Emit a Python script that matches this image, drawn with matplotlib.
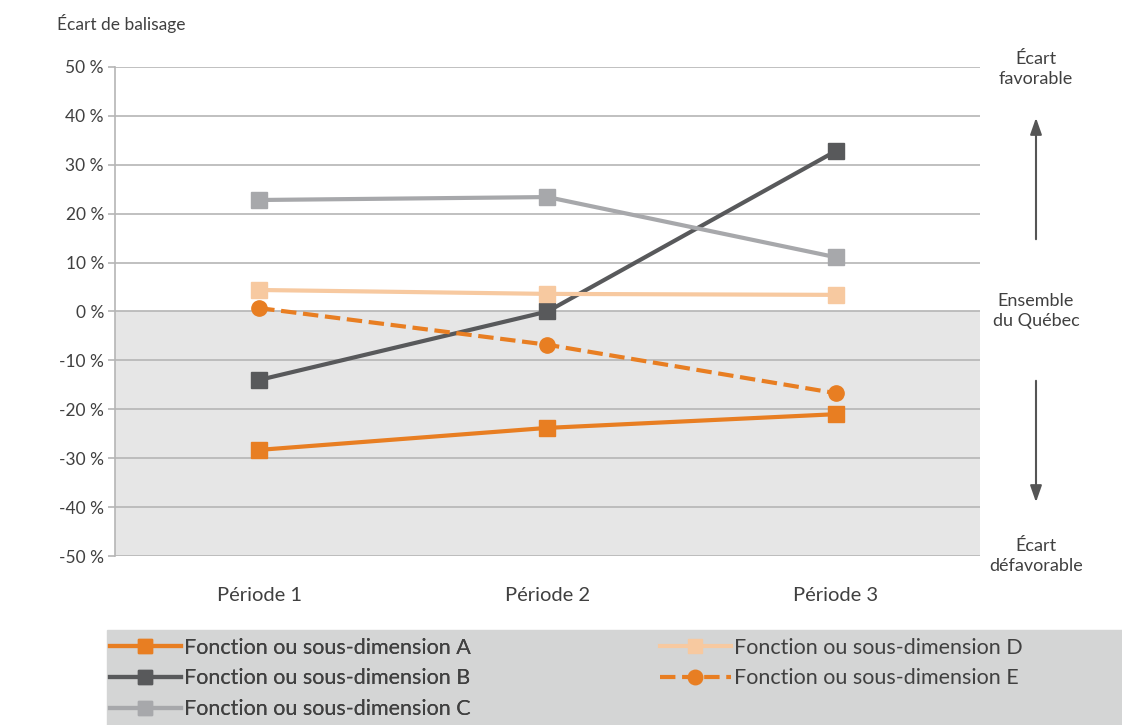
import matplotlib.pyplot as plt
from matplotlib.patches import Rectangle
from matplotlib.ticker import FuncFormatter

plt.rcParams['font.family'] = ['Lato', 'DejaVu Sans']

periods = ['Période 1', 'Période 2', 'Période 3']
serie_a = [-28.3, -23.8, -21.0]
serie_b = [-14.0, 0.0, 32.8]
serie_c = [22.8, 23.4, 11.1]
serie_d = [4.4, 3.6, 3.4]
serie_e = [0.7, -6.8, -16.7]
labels = ['Fonction ou sous-dimension A', 'Fonction ou sous-dimension B',
          'Fonction ou sous-dimension C', 'Fonction ou sous-dimension D',
          'Fonction ou sous-dimension E']

txt = '#404040'
fig = plt.figure(figsize=(11.22, 7.25), dpi=100)
ax = fig.add_axes([0.1025, 0.2331, 0.7709, 0.6745])

x = range(len(periods))
ax.axhspan(-50, 0, color='#e6e6e6', zorder=0)
for v in range(-50, 60, 10):
    ax.axhline(v, color='#b5b5b5', lw=1.2, zorder=1)

styles = [
    (serie_a, '#e87e22', 's', '-'),
    (serie_b, '#58595b', 's', '-'),
    (serie_c, '#a7a8ab', 's', '-'),
    (serie_d, '#f7c9a0', 's', '-'),
    (serie_e, '#e87e22', 'o', '--'),
]
handles = []
for (vals, col, mk, ls), lab in zip(styles, labels):
    h, = ax.plot(x, vals, color=col, marker=mk, ls=ls, lw=3, ms=11,
                 label=lab, zorder=3)
    handles.append(h)

ax.set_xlim(-0.5, 2.5)
ax.set_ylim(-50, 50)
ax.set_yticks(range(-50, 60, 10))
ax.yaxis.set_major_formatter(FuncFormatter(lambda v, p: f'{int(v)} %'))
ax.set_xticks(list(x))
ax.set_xticklabels(periods)
ax.tick_params(axis='x', length=0, pad=22, labelsize=14.5, colors=txt)
ax.tick_params(axis='y', length=5, color='#b5b5b5', width=1.2, pad=3,
               labelsize=12.5, colors=txt)
for s in ['top', 'right', 'bottom']:
    ax.spines[s].set_visible(False)
ax.spines['left'].set_color('#b5b5b5')
ax.spines['left'].set_linewidth(1.2)

fig.text(0.051, 0.968, 'Écart de balisage', fontsize=12.5, color=txt,
         va='center')

# side annotations and arrows
ax_x = 1036 / 1122
fig.text(ax_x, 1 - 69 / 725, 'Écart\nfavorable', ha='center', va='center',
         fontsize=13, color=txt, linespacing=1.35)
fig.text(ax_x, 1 - 311 / 725, 'Ensemble\ndu Québec', ha='center', va='center',
         fontsize=13, color=txt, linespacing=1.35)
fig.text(ax_x, 1 - 556 / 725, 'Écart\ndéfavorable', ha='center', va='center',
         fontsize=13, color=txt, linespacing=1.35)
arrow = dict(arrowstyle='-|>,head_width=0.35,head_length=1.0', color='#555555', lw=1.5)
fig.add_artist(plt.Annotation('', xy=(ax_x, 1 - 115 / 725), xytext=(ax_x, 1 - 242 / 725),
                              xycoords='figure fraction', arrowprops=arrow))
fig.add_artist(plt.Annotation('', xy=(ax_x, 1 - 505 / 725), xytext=(ax_x, 1 - 378 / 725),
                              xycoords='figure fraction', arrowprops=arrow))

# legend band
fig.add_artist(Rectangle((107 / 1122, 0), 1 - 107 / 1122, 95 / 725,
                         transform=fig.transFigure, color='#d4d5d5', zorder=0))
leg_kw = dict(loc='upper left', frameon=False, fontsize=15.5, labelcolor=txt,
              handlelength=3.3, handletextpad=0.15, labelspacing=0.5,
              borderaxespad=0, markerscale=0.95)
leg1 = fig.legend(handles=handles[:3], bbox_to_anchor=(101 / 1122, 1 - 629 / 725),
                  **leg_kw)
fig.add_artist(leg1)
fig.legend(handles=handles[3:], bbox_to_anchor=(651 / 1122, 1 - 629 / 725),
           **leg_kw)

fig.savefig('out.png', dpi=100)
